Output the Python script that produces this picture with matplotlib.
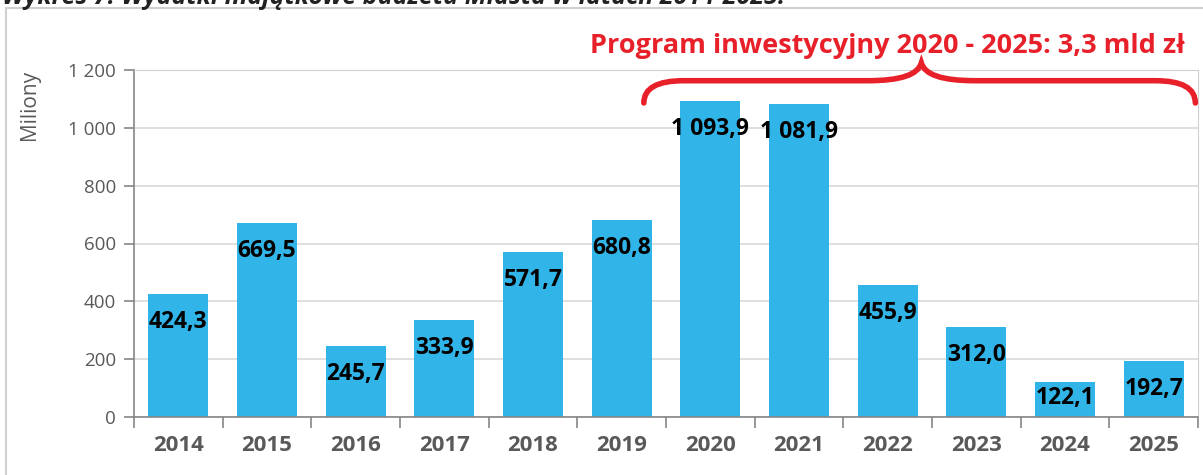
import matplotlib.pyplot as plt
import numpy as np
from matplotlib.path import Path
from matplotlib.patches import PathPatch, Rectangle
from matplotlib.ticker import FuncFormatter

years = ['2014', '2015', '2016', '2017', '2018', '2019',
         '2020', '2021', '2022', '2023', '2024', '2025']
values = [424.3, 669.5, 245.7, 333.9, 571.7, 680.8,
          1093.9, 1081.9, 455.9, 312.0, 122.1, 192.7]
labels = ['424,3', '669,5', '245,7', '333,9', '571,7', '680,8',
          '1 093,9', '1 081,9', '455,9', '312,0', '122,1', '192,7']

plt.rcParams['font.family'] = ['Open Sans', 'DejaVu Sans']

fig = plt.figure(figsize=(12.03, 4.75), dpi=100)
W, H = 1203, 475
ax = fig.add_axes([134 / W, 1 - 417 / H, (1198 - 134) / W, (417 - 70) / H])

# outer chart frame (partly off the picture)
fig.patches.append(Rectangle((6 / W, -0.1), 1.2, 1 - 8 / H + 0.1, transform=fig.transFigure,
                             fill=False, edgecolor='#d0d0d0', linewidth=1.5, zorder=0))

# caption above the chart, cut off by the top edge as in the source
fig.text(2 / W, 1 - 4 / H, 'Wykres 7. Wydatki majątkowe budżetu Miasta w latach 2014-2025.',
         fontsize=18, fontweight='bold', style='italic', color='#222222',
         ha='left', va='baseline')

x = np.arange(len(years))
ax.bar(x, values, width=0.68, color='#31b4e8', zorder=2)

for xi, v, lab in zip(x, values, labels):
    ax.text(xi, max(v - 97, 65), lab, ha='center', va='center',
            fontsize=16.5, fontweight='bold', color='black', zorder=3)

ax.set_xlim(-0.5, len(years) - 0.5)
ax.set_ylim(0, 1200)
ax.set_yticks(np.arange(0, 1201, 200))
ax.yaxis.set_major_formatter(FuncFormatter(lambda v, p: f'{int(v):,}'.replace(',', ' ')))
ax.set_xticks(x)
ax.set_xticklabels(years, fontsize=16, fontweight='bold', color='#595959')
ax.set_xticks(np.arange(-0.5, len(years), 1), minor=True)
ax.tick_params(axis='x', which='major', length=0, pad=13)
ax.tick_params(axis='x', which='minor', length=8, color='#868686', width=1.2)
ax.tick_params(axis='y', length=7, color='#868686', width=1.2, labelsize=13.5,
               labelcolor='#595959', pad=6)
ax.grid(axis='y', color='#d9d9d9', linewidth=1.2, zorder=0)
ax.set_axisbelow(True)
for s in ['top', 'right']:
    ax.spines[s].set_color('#d0d0d0')
for s in ['left', 'bottom']:
    ax.spines[s].set_color('#868686')
    ax.spines[s].set_linewidth(1.2)

ax.set_ylabel('Miliony', fontsize=15, color='#595959')
ax.yaxis.set_label_coords(-0.088, 0.9)

# curly brace over 2020-2025
red = '#e8202a'
xl, xr, xm = 5.25, 11.47, 8.38
yb, yh, yt = 1086, 1163, 1225
verts = [(xl, yb), (xl, yh), (xl + 0.45, yh),
         (xm - 0.6, yh), (xm - 0.05, yh), (xm, yt),
         (xm + 0.05, yh), (xm + 0.6, yh), (xr - 0.45, yh),
         (xr, yh), (xr, yb)]
codes = [Path.MOVETO, Path.CURVE3, Path.CURVE3,
         Path.LINETO, Path.CURVE3, Path.CURVE3,
         Path.CURVE3, Path.CURVE3, Path.LINETO,
         Path.CURVE3, Path.CURVE3]
ax.add_patch(PathPatch(Path(verts, codes), fill=False, edgecolor=red, linewidth=4,
                       clip_on=False, capstyle='round', zorder=5))

fig.text(888 / W, 1 - 46 / H, 'Program inwestycyjny 2020 - 2025: 3,3 mld zł',
         fontsize=19.5, fontweight='bold', color=red, ha='center', va='center')

fig.savefig('out.png', dpi=100)
